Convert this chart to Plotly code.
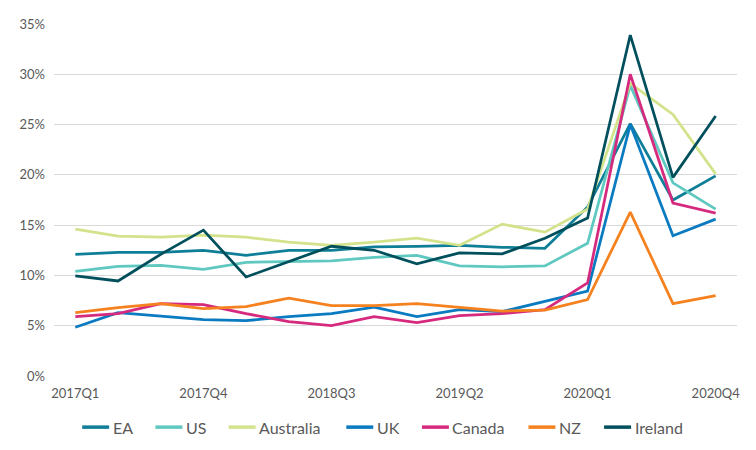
import plotly.graph_objects as go

quarters = ["2017Q1", "2017Q2", "2017Q3", "2017Q4",
            "2018Q1", "2018Q2", "2018Q3", "2018Q4",
            "2019Q1", "2019Q2", "2019Q3", "2019Q4",
            "2020Q1", "2020Q2", "2020Q3", "2020Q4"]
tick_labels = ["2017Q1", "2017Q4", "2018Q3", "2019Q2", "2020Q1", "2020Q4"]

ea        = [12.1, 12.3, 12.3, 12.5, 12.0, 12.5, 12.5, 12.85, 12.9, 13.0, 12.8, 12.7, 16.8, 25.1, 17.5, 19.9]
us        = [10.4, 10.9, 11.0, 10.6, 11.3, 11.4, 11.45, 11.8, 12.0, 10.95, 10.85, 10.95, 13.2, 28.9, 19.2, 16.6]
australia = [14.6, 13.9, 13.8, 14.0, 13.8, 13.3, 13.0, 13.3, 13.7, 13.0, 15.1, 14.3, 16.6, 29.1, 26.0, 20.1]
uk        = [4.85, 6.3, 5.95, 5.6, 5.5, 5.9, 6.2, 6.85, 5.9, 6.6, 6.4, 7.45, 8.45, 25.0, 13.95, 15.6]
canada    = [5.9, 6.2, 7.2, 7.1, 6.2, 5.4, 5.0, 5.9, 5.3, 6.0, 6.2, 6.6, 9.25, 30.0, 17.2, 16.2]
nz        = [6.3, 6.8, 7.2, 6.7, 6.9, 7.75, 7.0, 7.0, 7.2, 6.8, 6.45, 6.55, 7.6, 16.3, 7.2, 8.0]
ireland   = [9.95, 9.45, 12.1, 14.5, 9.85, 11.4, 12.9, 12.5, 11.15, 12.25, 12.15, 13.7, 15.7, 33.9, 19.75, 25.85]

series_names = ["EA", "US", "Australia", "UK", "Canada", "NZ", "Ireland"]
series_values = [ea, us, australia, uk, canada, nz, ireland]
series_colors = ["#0f7f98", "#5fc8c0", "#d2e38c", "#0a7bc1", "#d62a7e", "#f5821f", "#004f5c"]

# layout (figure pixel coordinates; page has an 8px body margin)
W, H = 756, 450
ML, MR, MT, MB = 45.5, 27, 16, 81.5
PW, PH = W - ML - MR, H - MT - MB
# legend entries: left pixel of the line sample on the page
legend_line_x = [81.7, 155, 228.3, 346, 421.7, 528.3, 604]
legend_line_len = 27
legend_y_px = 427.7
OFF = 8


def px_to_paper_x(px):
    return (px - OFF - ML) / PW


def px_to_paper_y(py):
    return (H - MB - (py - OFF)) / PH


fig = go.Figure()
for name, vals, color in zip(series_names, series_values, series_colors):
    fig.add_trace(go.Scatter(
        x=quarters, y=[v / 100 for v in vals], name=name, mode="lines",
        line=dict(color=color, width=2.75), showlegend=False,
    ))

shapes = []
annotations = []
ly = px_to_paper_y(legend_y_px)
for name, color, lx in zip(series_names, series_colors, legend_line_x):
    shapes.append(dict(type="line", xref="paper", yref="paper",
                       x0=px_to_paper_x(lx), x1=px_to_paper_x(lx + legend_line_len),
                       y0=ly, y1=ly, line=dict(color=color, width=3.5)))
    annotations.append(dict(text=name, xref="paper", yref="paper",
                            x=px_to_paper_x(lx + legend_line_len + 1.5), y=ly,
                            xanchor="left", yanchor="middle", showarrow=False,
                            font=dict(size=16, color="#595959", family="Lato")))

fig.update_layout(
    width=W, height=H,
    margin=dict(l=ML, r=MR, t=MT, b=MB),
    paper_bgcolor="white", plot_bgcolor="white",
    font=dict(family="Lato", color="#595959", size=13),
    showlegend=False,
    shapes=shapes, annotations=annotations,
    xaxis=dict(type="category", range=[-0.5, 15.5], tickmode="array",
               tickvals=tick_labels, ticktext=tick_labels, showgrid=False,
               showline=False, zeroline=False, ticks="", ticklabelstandoff=8,
               automargin=False),
    yaxis=dict(range=[0, 0.35], dtick=0.05, tickformat=".0%", showgrid=True,
               gridcolor="#d9d9d9", gridwidth=1, zeroline=False, showline=False,
               ticks="", ticklabelstandoff=8, automargin=False),
)

fig.write_html("out.html")
